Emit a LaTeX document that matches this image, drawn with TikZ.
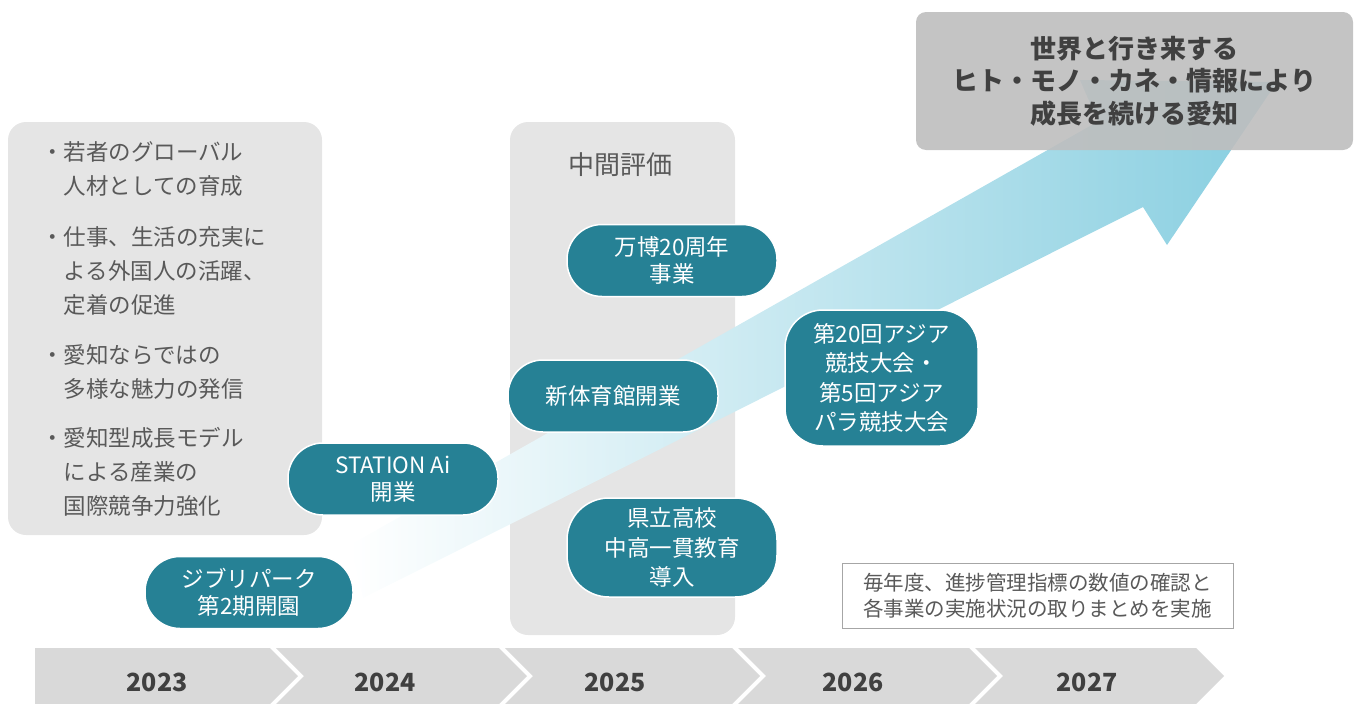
\documentclass[tikz,border=0pt]{standalone}
\usepackage{fontspec}
\setmainfont{Noto Sans CJK JP}
\definecolor{tealpill}{RGB}{38,129,149}
\definecolor{panelgray}{RGB}{229,229,229}
\definecolor{goalgray}{RGB}{190,190,190}
\definecolor{chevgray}{RGB}{217,217,217}
\definecolor{textgray}{RGB}{89,89,89}
\definecolor{darktext}{RGB}{64,64,64}
\definecolor{arrowblue}{RGB}{135,206,224}
\begin{document}
\begin{tikzpicture}[x=1pt,y=-1pt,
  panel/.style={fill=panelgray, draw=none, rounded corners=18pt},
  pill/.style={fill=tealpill, draw=white, line width=1.5pt, text=white, align=center,
    inner sep=0pt, minimum width=210pt, minimum height=72pt, rounded corners=35pt,
    font=\fontsize{22.5}{27}\selectfont},
  item/.style={anchor=north west, align=left, inner sep=0pt, text=textgray,
    font=\fontsize{22.5}{34}\selectfont},
  chev/.style={fill=chevgray, draw=none},
  year/.style={text=darktext, font=\fontsize{25}{25}\selectfont\bfseries, inner sep=0pt},
  notebox/.style={draw=gray!70, fill=white, line width=0.8pt, text=textgray, align=center,
    inner sep=0pt, minimum width=391pt, minimum height=65pt, font=\fontsize{20.5}{26}\selectfont}
]
\useasboundingbox (0,0) rectangle (1361,704);

% panels
\node[panel, minimum width=314pt, minimum height=413pt, inner sep=0pt] (leftpanel) at (165,328.5) {};
\node[panel, minimum width=225pt, minimum height=513pt, inner sep=0pt] (midpanel) at (622.5,378.5) {};

% growth arrow (in front of the panels)
\shade[left color=white, right color=arrowblue]
  (350,545) -- (1098,121.5) -- (1080,80) -- (1277,82) -- (1167,245) -- (1143,207) -- (363,598) -- cycle;

% left panel items
\node[item] (i1) at (41,141) {・若者のグローバル\\　人材としての育成};
\node[item] (i2) at (41,226) {・仕事、生活の充実に\\　よる外国人の活躍、\\　定着の促進};
\node[item] (i3) at (41,344) {・愛知ならではの\\　多様な魅力の発信};
\node[item] (i4) at (41,427) {・愛知型成長モデル\\　による産業の\\　国際競争力強化};

% mid panel title
\node[text=textgray, font=\fontsize{26}{26}\selectfont, inner sep=0pt] (midtitle) at (620,165) {中間評価};

% goal box
\node[fill=goalgray, fill opacity=0.9, text opacity=1, rounded corners=10pt, inner sep=0pt,
  minimum width=437pt, minimum height=138pt, align=center, text=darktext,
  font=\fontsize{26}{32.5}\selectfont\bfseries] (goal) at (1134.5,81)
  {世界と行き来する\\ヒト・モノ・カネ・情報により\\成長を続ける愛知};

% pills
\node[pill] (banpaku) at (672,260.5) {万博20周年\\事業};
\node[pill] (taiikukan) at (613,396) {新体育館開業};
\node[pill, minimum height=99pt, rounded corners=42pt, font=\fontsize{22.5}{29.5}\selectfont] (kenritsu) at (672,547.5) {県立高校\\中高一貫教育\\導入};
\node[pill] (station) at (393,479) {STATION Ai\\開業};
\node[pill, minimum width=208pt] (ghibli) at (249,592.5) {ジブリパーク\\第2期開園};
\node[pill, minimum width=193pt, minimum height=136pt, rounded corners=38pt, font=\fontsize{22.5}{29.5}\selectfont] (asia) at (881.5,378) {第20回アジア\\競技大会・\\第5回アジア\\パラ競技大会};

% note box
\node[notebox] (note) at (1037.5,595.5) {毎年度、進捗管理指標の数値の確認と\\各事業の実施状況の取りまとめを実施};

% timeline chevrons
\fill[chev] (35,648) -- (270,648) -- (298,676) -- (270,704) -- (35,704) -- cycle;
\fill[chev] (276,648) -- (499,648) -- (527,676) -- (499,704) -- (276,704) -- (304,676) -- cycle;
\fill[chev] (505,648) -- (732,648) -- (760,676) -- (732,704) -- (505,704) -- (533,676) -- cycle;
\fill[chev] (738,648) -- (969,648) -- (997,676) -- (969,704) -- (738,704) -- (766,676) -- cycle;
\fill[chev] (975,648) -- (1196,648) -- (1224,676) -- (1196,704) -- (975,704) -- (1003,676) -- cycle;

\node[year] (y2023) at (157,682) {2023};
\node[year] (y2024) at (385,682) {2024};
\node[year] (y2025) at (615,682) {2025};
\node[year] (y2026) at (853,682) {2026};
\node[year] (y2027) at (1087,682) {2027};
\end{tikzpicture}
\end{document}
